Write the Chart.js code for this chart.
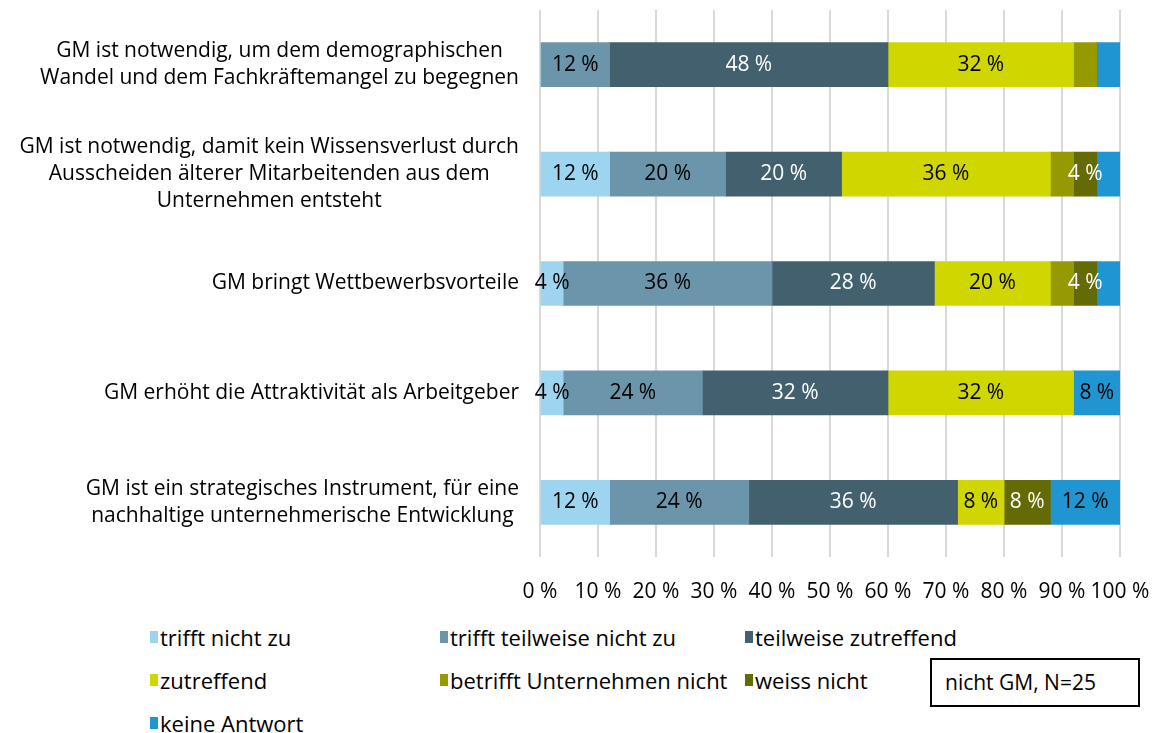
<!DOCTYPE html>
<html>
<head>
<meta charset="utf-8">
<script src="https://cdn.jsdelivr.net/npm/chart.js@4"></script>
<style>
    body { margin: 0; background: #fff; font-family: "Open Sans", sans-serif; }
    #wrap { position: relative; width: 1159px; height: 733px; }
    #chartbox { position: absolute; left: 0; top: 0; width: 1159px; height: 607px; }
    #legend {
        position: absolute; left: 150px; top: 615px;
        display: grid; grid-template-columns: 290px 305px 220px; grid-auto-rows: 43px;
        font-size: 22px; color: #000;
    }
    #legend div { display: flex; align-items: center; white-space: nowrap; }
    #legend span { display: inline-block; flex-shrink: 0; width: 8px; height: 12px; margin-right: 2px; }
    #note {
        position: absolute; left: 930px; top: 658px; width: 206px; height: 45px;
        border: 2px solid #000; font-size: 21px; line-height: 45px;
        box-sizing: content-box; text-indent: 13px;
    }
</style>
</head>
<body>
<div id="wrap">
    <div id="chartbox"><canvas id="barchart"></canvas></div>
    <div id="legend"></div>
    <div id="note">nicht GM, N=25</div>
</div>
<script>
var categories = [
    ["GM ist notwendig, um dem demographischen", "Wandel und dem Fachkräftemangel zu begegnen"],
    ["GM ist notwendig, damit kein Wissensverlust durch", "Ausscheiden älterer Mitarbeitenden aus dem", "Unternehmen entsteht"],
    ["GM bringt Wettbewerbsvorteile"],
    ["GM erhöht die Attraktivität als Arbeitgeber"],
    ["GM ist ein strategisches Instrument, für eine", "nachhaltige unternehmerische Entwicklung"]
];
var seriesNames = ["trifft nicht zu", "trifft teilweise nicht zu", "teilweise zutreffend",
    "zutreffend", "betrifft Unternehmen nicht", "weiss nicht", "keine Antwort"];

var trifftNicht = [0, 12, 4, 4, 12];
var teilweiseNicht = [12, 20, 36, 24, 24];
var teilweiseZu = [48, 20, 28, 32, 36];
var zutreffend = [32, 36, 20, 32, 8];
var betrifftNicht = [4, 4, 4, 0, 0];
var weissNicht = [0, 4, 4, 0, 8];
var keineAntwort = [4, 4, 4, 8, 12];

var xTicks = [0, 10, 20, 30, 40, 50, 60, 70, 80, 90, 100];
// segments whose value label is not printed: [series, row]
var hiddenLabels = [[4, 0], [4, 1], [4, 2], [6, 0], [6, 1], [6, 2]];

var colors = ["#9DD5F0", "#6A95AA", "#42606E", "#D0D600", "#969A00", "#646A04", "#1F96D2"];
var labelColors = ["#000", "#000", "#fff", "#000", "#000", "#fff", "#000"];
var allSeries = [trifftNicht, teilweiseNicht, teilweiseZu, zutreffend, betrifftNicht, weissNicht, keineAntwort];

var FONT = '"Open Sans", sans-serif';

function isHidden(di, i) {
    return hiddenLabels.some(function (h) { return h[0] == di && h[1] == i; });
}

const barLabels = {
    id: "barLabels",
    afterDatasetsDraw: function (chart) {
        var ctx = chart.ctx;
        ctx.save();
        ctx.font = "21px " + FONT;
        ctx.textAlign = "center";
        ctx.textBaseline = "middle";
        chart.data.datasets.forEach(function (ds, di) {
            var meta = chart.getDatasetMeta(di);
            meta.data.forEach(function (bar, i) {
                var v = ds.data[i];
                if (!v || isHidden(di, i)) return;
                ctx.fillStyle = labelColors[di];
                ctx.fillText(v + " %", (bar.x + bar.base) / 2, bar.y);
            });
        });
        // category labels: block right-aligned to the axis, lines centred in the block
        var yScale = chart.scales.y;
        var right = chart.chartArea.left - 21;
        ctx.fillStyle = "#000";
        categories.forEach(function (lines, i) {
            var w = Math.max.apply(null, lines.map(function (l) { return ctx.measureText(l).width; }));
            var cx = right - w / 2;
            var yc = yScale.getPixelForValue(i);
            lines.forEach(function (l, k) {
                ctx.fillText(l, cx, yc + (k - (lines.length - 1) / 2) * 27);
            });
        });
        ctx.restore();
    }
};

const chartdata = {
    labels: categories.map(function (c) { return c.join(" "); }),
    datasets: allSeries.map(function (d, i) {
        return {
            label: seriesNames[i],
            data: d,
            backgroundColor: colors[i],
            borderWidth: 0,
            barThickness: 44,
        };
    }),
};

const config = {
    type: "bar",
    data: chartdata,
    options: {
        indexAxis: "y",
        responsive: true,
        maintainAspectRatio: false,
        animation: false,
        layout: { padding: { top: 10, right: 39, left: 0, bottom: 0 } },
        plugins: {
            legend: { display: false },
            tooltip: { enabled: false },
        },
        scales: {
            x: {
                stacked: true,
                min: 0,
                max: 100,
                afterBuildTicks: function (scale) {
                    scale.ticks = xTicks.map(function (v) { return { value: v }; });
                },
                afterFit: function (scale) {
                    scale.height = 50;
                    scale.paddingLeft = 0;
                    scale.paddingRight = 0;
                },
                grid: { color: "#D9D9D9", lineWidth: 2, tickLength: 0 },
                border: { display: false },
                ticks: {
                    padding: 22,
                    maxRotation: 0,
                    minRotation: 0,
                    autoSkip: false,
                    color: "#000",
                    font: { family: FONT, size: 21 },
                    callback: function (value) { return value + " %"; },
                },
            },
            y: {
                stacked: true,
                afterFit: function (scale) { scale.width = 540; },
                grid: { display: false },
                border: { display: false },
                ticks: { display: false },
            },
        },
    },
    plugins: [barLabels],
};

var barchart = new Chart(document.getElementById("barchart"), config);

// legend in three columns
var legend = document.getElementById("legend");
seriesNames.forEach(function (name, i) {
    var item = document.createElement("div");
    item.innerHTML = '<span style="background:' + colors[i] + '"></span>' + name;
    legend.appendChild(item);
});
</script>
</body>
</html>
